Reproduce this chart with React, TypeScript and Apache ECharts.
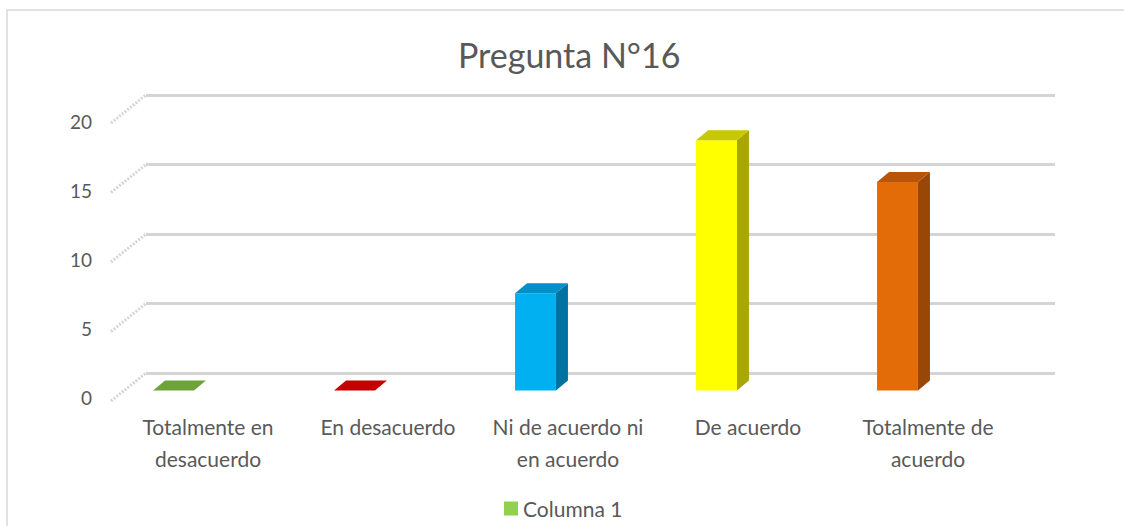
import React, { useEffect, useRef } from "react";
import * as echarts from "echarts";

const title = "Pregunta N°16";
const seriesName = "Columna 1";
const categories = [
  "Totalmente en desacuerdo",
  "En desacuerdo",
  "Ni de acuerdo ni en acuerdo",
  "De acuerdo",
  "Totalmente de acuerdo",
];
const categoryLabels = [
  "Totalmente en\ndesacuerdo",
  "En desacuerdo",
  "Ni de acuerdo ni\nen acuerdo",
  "De acuerdo",
  "Totalmente de\nacuerdo",
];
const values = [0, 0, 7, 18, 15];
const yTicks = [0, 5, 10, 15, 20];

const frontColors = ["#92d050", "#ff0000", "#00b0f0", "#ffff00", "#e36c09"];
const topColors = ["#6ea33c", "#c40000", "#0090c8", "#c8c800", "#b85508"];
const sideColors = ["#5a8a30", "#a00000", "#0072a2", "#a8a800", "#984706"];

const FONT = "Lato, 'Open Sans', sans-serif";
const TEXT = "#595959";

export default function App() {
  const ref = useRef<HTMLDivElement>(null);
  useEffect(() => {
    if (!ref.current) return;
    const chart = echarts.init(ref.current, undefined, { renderer: "svg" });
    const DX = 12;
    const DY = 10;
    chart.setOption({
      animation: false,
      backgroundColor: "#ffffff",
      textStyle: { fontFamily: FONT },
      title: {
        text: title,
        left: 453,
        top: 32,
        textStyle: { fontFamily: FONT, fontSize: 34, fontWeight: "normal", color: TEXT },
      },
      legend: {
        bottom: 2,
        left: 499,
        icon: "rect",
        itemWidth: 14,
        itemHeight: 14,
        itemGap: 6,
        textStyle: { fontFamily: FONT, fontSize: 21, color: TEXT },
        data: [{ name: seriesName, itemStyle: { color: "#92d050" } }],
      },
      graphic: [
        {
          type: "rect",
          shape: { x: 7, y: 10, width: 1300, height: 700 },
          style: { fill: "none", stroke: "#d9d9d9", lineWidth: 1.5 },
          silent: true,
          z: -10,
        },
      ],
      grid: [
        { left: 146, right: 69, top: 95, bottom: 153 },
        { left: 83, width: 905, top: 112.5, height: 278 },
        { left: 118, width: 900, top: 121, height: 276 },
      ],
      xAxis: [
        { gridIndex: 0, type: "value", min: 0, max: 1, show: false },
        { gridIndex: 1, type: "category", data: categories, show: false },
        {
          gridIndex: 2,
          type: "category",
          data: categories,
          axisLine: { show: false },
          axisTick: { show: false },
          axisLabel: {
            interval: 0,
            formatter: (_v: string, i: number) => categoryLabels[i],
            fontFamily: FONT,
            fontSize: 21,
            lineHeight: 32,
            margin: 13,
            color: TEXT,
          },
        },
      ],
      yAxis: [
        {
          gridIndex: 0,
          type: "value",
          min: 0,
          max: 20,
          interval: 5,
          axisLabel: { show: false },
          axisLine: { show: false },
          axisTick: { show: false },
          splitLine: { show: true, lineStyle: { color: "#d4d4d4", width: 3 } },
        },
        { gridIndex: 1, type: "value", min: 0, max: 20, interval: 5, show: false },
        {
          gridIndex: 2,
          type: "value",
          min: 0,
          max: 20,
          interval: 5,
          axisLine: { show: false },
          axisTick: { show: false },
          splitLine: { show: false },
          axisLabel: { fontFamily: FONT, fontSize: 19, color: TEXT, margin: 26 },
        },
      ],
      series: [
        {
          type: "custom",
          name: "side",
          xAxisIndex: 0,
          yAxisIndex: 0,
          silent: true,
          data: yTicks.map((t) => [0, t]),
          renderItem: (_p: any, api: any) => {
            const p = api.coord([0, api.value(1)]);
            return {
              type: "line",
              shape: { x1: p[0] - 35, y1: p[1] + 28, x2: p[0], y2: p[1] },
              style: { stroke: "#d6d6d6", lineWidth: 3, lineDash: [2, 1.5] },
            };
          },
        },
        {
          type: "custom",
          name: seriesName,
          xAxisIndex: 1,
          yAxisIndex: 1,
          itemStyle: { color: "#92d050" },
          data: values.map((v, i) => [i, v]),
          renderItem: (_p: any, api: any) => {
            const i = api.value(0);
            const v = api.value(1);
            const base = api.coord([i, 0]);
            const top = api.coord([i, v]);
            const w = api.size([1, 0])[0] * 0.226;
            const x0 = base[0] - w / 2;
            const x1 = base[0] + w / 2;
            const yb = base[1];
            const yt = top[1];
            return {
              type: "group",
              children: [
                {
                  type: "polygon",
                  shape: { points: [[x1, yt], [x1 + DX, yt - DY], [x1 + DX, yb - DY], [x1, yb]] },
                  style: { fill: sideColors[i] },
                },
                {
                  type: "rect",
                  shape: { x: x0, y: yt, width: w, height: yb - yt },
                  style: { fill: frontColors[i] },
                },
                {
                  type: "polygon",
                  shape: { points: [[x0, yt], [x0 + DX, yt - DY], [x1 + DX, yt - DY], [x1, yt]] },
                  style: { fill: topColors[i] },
                },
              ],
            };
          },
        },
      ],
    });
    return () => chart.dispose();
  }, []);
  return (
    <div
      ref={ref}
      style={{ position: "absolute", left: 0, top: 0, width: 1124, height: 526 }}
    />
  );
}
